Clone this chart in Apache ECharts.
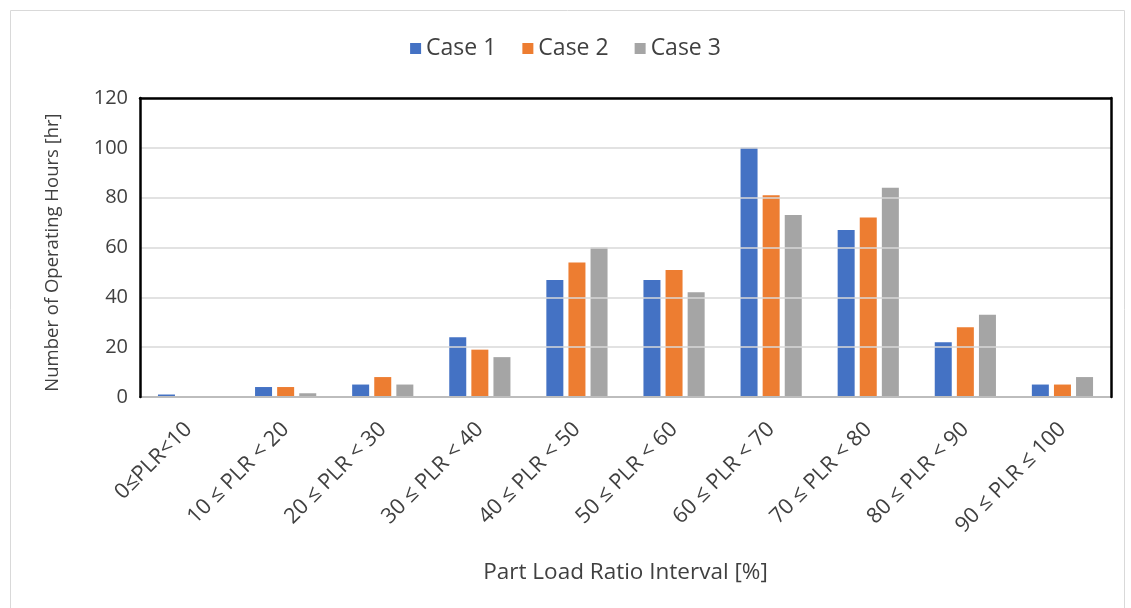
<!DOCTYPE html>
<html>
<head>
<meta charset="utf-8">
<script src="https://cdn.jsdelivr.net/npm/echarts@6/dist/echarts.min.js"></script>
<style>
  html, body { margin: 0; padding: 0; background: #fff; }
  #chart { width: 1131px; height: 608px; }
</style>
</head>
<body>
<div id="chart"></div>
<script>
// Part-load ratio intervals (x categories)
const categories = [
  '0≤PLR<10', '10 ≤ PLR < 20', '20 ≤ PLR < 30', '30 ≤ PLR < 40', '40 ≤ PLR < 50',
  '50 ≤ PLR < 60', '60 ≤ PLR < 70', '70 ≤ PLR < 80', '80 ≤ PLR < 90', '90 ≤ PLR ≤ 100'
];
// Operating hours per interval
const case1 = [1, 4, 5, 24, 47, 47, 100, 67, 22, 5];
const case2 = [0, 4, 8, 19, 54, 51, 81, 72, 28, 5];
const case3 = [0, 1.5, 5, 16, 60, 42, 73, 84, 33, 8];
const seriesNames = ['Case 1', 'Case 2', 'Case 3'];
const yTicks = { min: 0, max: 120, interval: 20 };

const colors = ['#4472C4', '#ED7D31', '#A5A5A5'];
const fontFamily = '"Open Sans", Lato, sans-serif';
const textColor = '#404040';
const frame = { color: '#000', width: 2.5 };

const chart = echarts.init(document.getElementById('chart'), null, { renderer: 'canvas' });

const bar = (name, data, color) => ({
  name, type: 'bar', data,
  barWidth: 17, barGap: '30%',
  itemStyle: { color },
  emphasis: { disabled: true }
});

chart.setOption({
  animation: false,
  color: colors,
  graphic: [{
    type: 'rect',
    shape: { x: 10.5, y: 10.5, width: 1114, height: 610 },
    style: { fill: 'none', stroke: '#d9d9d9', lineWidth: 1 },
    silent: true, z: -1
  }],
  legend: {
    top: 32, left: 'center',
    itemWidth: 11, itemHeight: 11, itemGap: 26,
    icon: 'rect',
    textStyle: { fontFamily, fontSize: 23, color: textColor },
    data: seriesNames
  },
  grid: {
    left: 140, top: 98, right: 20, bottom: 211,
    containLabel: false
  },
  xAxis: [{
    type: 'category', data: categories,
    axisLine: { show: true, onZero: false, lineStyle: { color: '#6e6e6e', width: 2 } },
    axisTick: { show: false },
    axisLabel: {
      rotate: 45, interval: 0, margin: 29,
      fontFamily, fontSize: 21.5, color: textColor
    },
    name: 'Part Load Ratio Interval [%]',
    nameLocation: 'middle', nameGap: 164,
    nameTextStyle: { fontFamily, fontSize: 22.5, color: textColor },
    z: 3
  }, {
    // top edge of the plot frame
    type: 'category', data: categories, position: 'top',
    axisLine: { show: true, onZero: false, lineStyle: frame },
    axisTick: { show: false }, axisLabel: { show: false },
    splitLine: { show: false },
    z: 10
  }],
  yAxis: [{
    type: 'value', min: yTicks.min, max: yTicks.max, interval: yTicks.interval,
    axisLine: { show: true, onZero: false, lineStyle: frame },
    axisTick: { show: false },
    splitLine: { lineStyle: { color: '#d9d9d9', width: 1.5 } },
    axisLabel: { fontFamily, fontSize: 20, color: textColor, margin: 12 },
    name: 'Number of Operating Hours [hr]',
    nameLocation: 'middle', nameGap: 78, nameRotate: 90,
    nameTextStyle: { fontFamily, fontSize: 18.5, color: textColor, padding: [0, 10, 0, 0] },
    z: 4
  }, {
    // right edge of the plot frame
    type: 'value', min: yTicks.min, max: yTicks.max, interval: yTicks.interval,
    position: 'right',
    axisLine: { show: true, onZero: false, lineStyle: frame },
    axisTick: { show: false }, axisLabel: { show: false },
    splitLine: { show: false },
    z: 10
  }],
  series: [
    bar(seriesNames[0], case1, colors[0]),
    bar(seriesNames[1], case2, colors[1]),
    bar(seriesNames[2], case3, colors[2])
  ]
});
</script>
</body>
</html>
